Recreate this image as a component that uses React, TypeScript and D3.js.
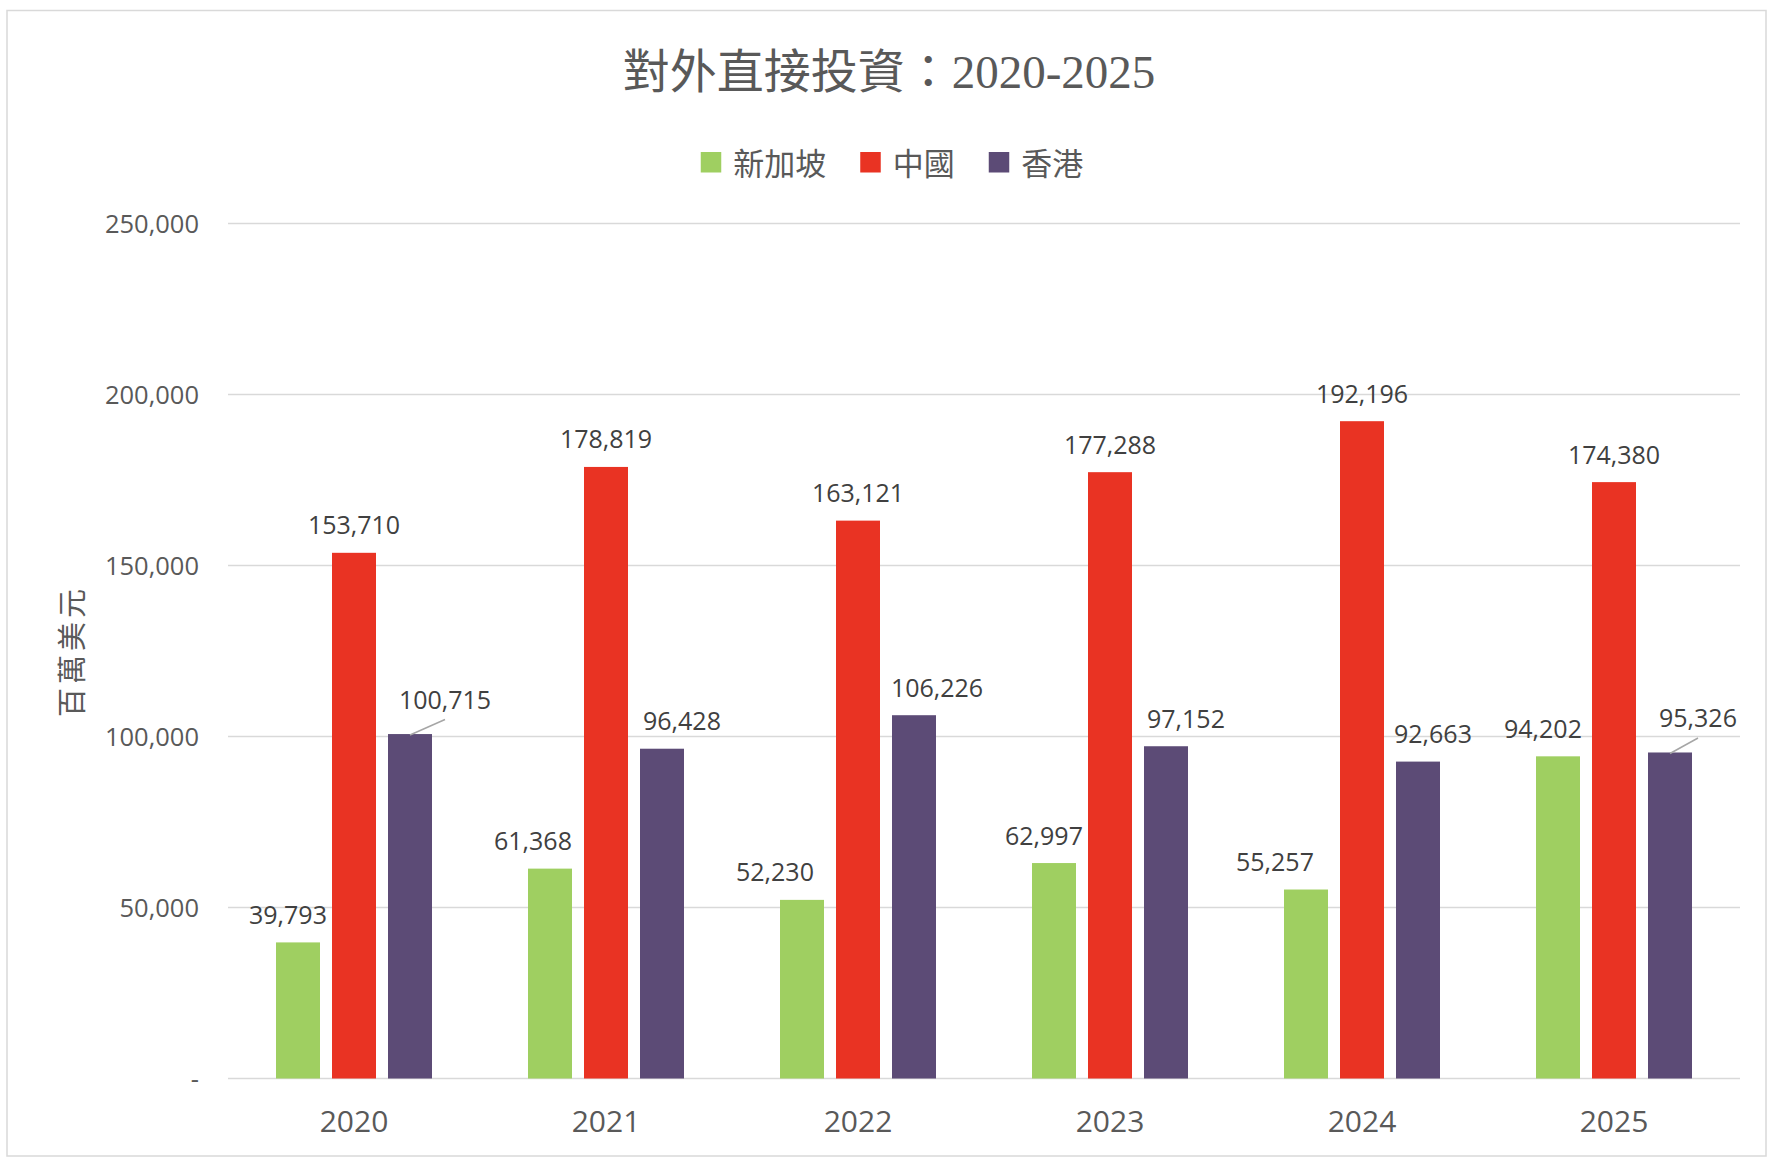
import React from "react";
import * as d3 from "d3";

const years = ["2020", "2021", "2022", "2023", "2024", "2025"];
const seriesNames = ["新加坡", "中國", "香港"];
const singapore = [39793, 61368, 52230, 62997, 55257, 94202];
const china = [153710, 178819, 163121, 177288, 192196, 174380];
const hongkong = [100715, 96428, 106226, 97152, 92663, 95326];
const yTicks = [0, 50000, 100000, 150000, 200000, 250000];
const colors = ["#9fcf61", "#e93323", "#5c4b76"];

// horizontal nudges of the data labels (as dragged in the original)
const labelNudgeSingapore = [-10, -17, -27, -10, -31, -15];
const labelNudgeChina = [0, 0, 0, 0, 0, 0];
const labelNudgeHongKong = [35, 20, 23, 20, 15, 28];
const leaderHongKong = [true, false, false, false, false, true];

const W = 1776;
const H = 1164;
const numFont = "'Open Sans', 'Noto Sans', sans-serif";
const cjkFont = "'Noto Sans CJK TC', 'Noto Sans CJK SC', sans-serif";

export default function App() {
  const values = [singapore, china, hongkong];
  const nudges = [labelNudgeSingapore, labelNudgeChina, labelNudgeHongKong];
  const x0 = d3.scaleBand<string>().domain(years).range([228, 1740]);
  const bw = x0.bandwidth();
  const x1 = d3
    .scaleBand<string>()
    .domain(seriesNames)
    .range([(bw - 168) / 2, (bw + 168) / 2])
    .paddingInner(12 / 56)
    .paddingOuter(6 / 56);
  const y = d3.scaleLinear().domain([0, 250000]).range([1078.5, 223.5]);
  const fmt = d3.format(",");

  const legendFont = 31;
  const sq = 20.5;
  const itemWidths = seriesNames.map((s) => sq + 12 + s.length * legendFont);
  const legendGap = 34;
  const legendTotal = itemWidths.reduce((a, b) => a + b, 0) + legendGap * (seriesNames.length - 1);
  let lx = 892 - legendTotal / 2;
  const legendItems = seriesNames.map((s, i) => {
    const item = { s, i, x: lx };
    lx += itemWidths[i] + legendGap;
    return item;
  });

  return (
    <svg
      width={W}
      height={H}
      style={{ position: "absolute", left: 0, top: 0, background: "#fff" }}
    >
      <rect x={0} y={0} width={W} height={H} fill="#ffffff" />
      <rect x={7} y={10.5} width={1759} height={1145.5} fill="none" stroke="#d9d9d9" strokeWidth={1.5} />

      <text
        x={889}
        y={88}
        textAnchor="middle"
        fill="#595959"
        style={{ fontFamily: `'Liberation Serif', 'DejaVu Serif', 'Noto Sans CJK TC', serif`, fontSize: 47 }}
      >
        對外直接投資：2020-2025
      </text>

      {legendItems.map((it) => (
        <g key={it.s}>
          <rect x={it.x} y={152} width={sq} height={sq} fill={colors[it.i]} />
          <text
            x={it.x + sq + 12}
            y={161}
            dominantBaseline="central"
            fill="#595959"
            style={{ fontFamily: cjkFont, fontSize: legendFont }}
          >
            {it.s}
          </text>
        </g>
      ))}

      {yTicks.map((t) => (
        <g key={t}>
          <line x1={228} x2={1740} y1={y(t)} y2={y(t)} stroke="#d9d9d9" strokeWidth={1.5} />
          <text
            x={199}
            y={y(t)}
            dy="0.36em"
            textAnchor="end"
            fill="#595959"
            style={{ fontFamily: numFont, fontSize: 25.5 }}
          >
            {t === 0 ? "-" : fmt(t)}
          </text>
        </g>
      ))}

      <text
        transform="translate(70,651) rotate(-90)"
        textAnchor="middle"
        dominantBaseline="central"
        fill="#595959"
        style={{ fontFamily: cjkFont, fontSize: 29, letterSpacing: 4 }}
      >
        百萬美元
      </text>

      {years.map((yr, j) => (
        <g key={yr} transform={`translate(${x0(yr)},0)`}>
          {seriesNames.map((s, i) => {
            const v = values[i][j];
            const bx = x1(s) as number;
            const cx = bx + x1.bandwidth() / 2;
            const top = y(v);
            const leader = i === 2 && leaderHongKong[j];
            const lxp = cx + nudges[i][j];
            const ly = top - (leader ? 25 : 18.5);
            return (
              <g key={s}>
                <rect x={bx} y={top} width={x1.bandwidth()} height={y(0) - top} fill={colors[i]} />
                {leader && (
                  <line x1={cx} y1={top + 1} x2={lxp} y2={ly + 10.5} stroke="#a6a6a6" strokeWidth={1.5} />
                )}
                <text
                  x={lxp}
                  y={ly}
                  textAnchor="middle"
                  fill="#404040"
                  style={{ fontFamily: numFont, fontSize: 25 }}
                >
                  {fmt(v)}
                </text>
              </g>
            );
          })}
          <text
            x={bw / 2}
            y={1131.5}
            textAnchor="middle"
            fill="#595959"
            style={{ fontFamily: numFont, fontSize: 30 }}
          >
            {yr}
          </text>
        </g>
      ))}
    </svg>
  );
}
